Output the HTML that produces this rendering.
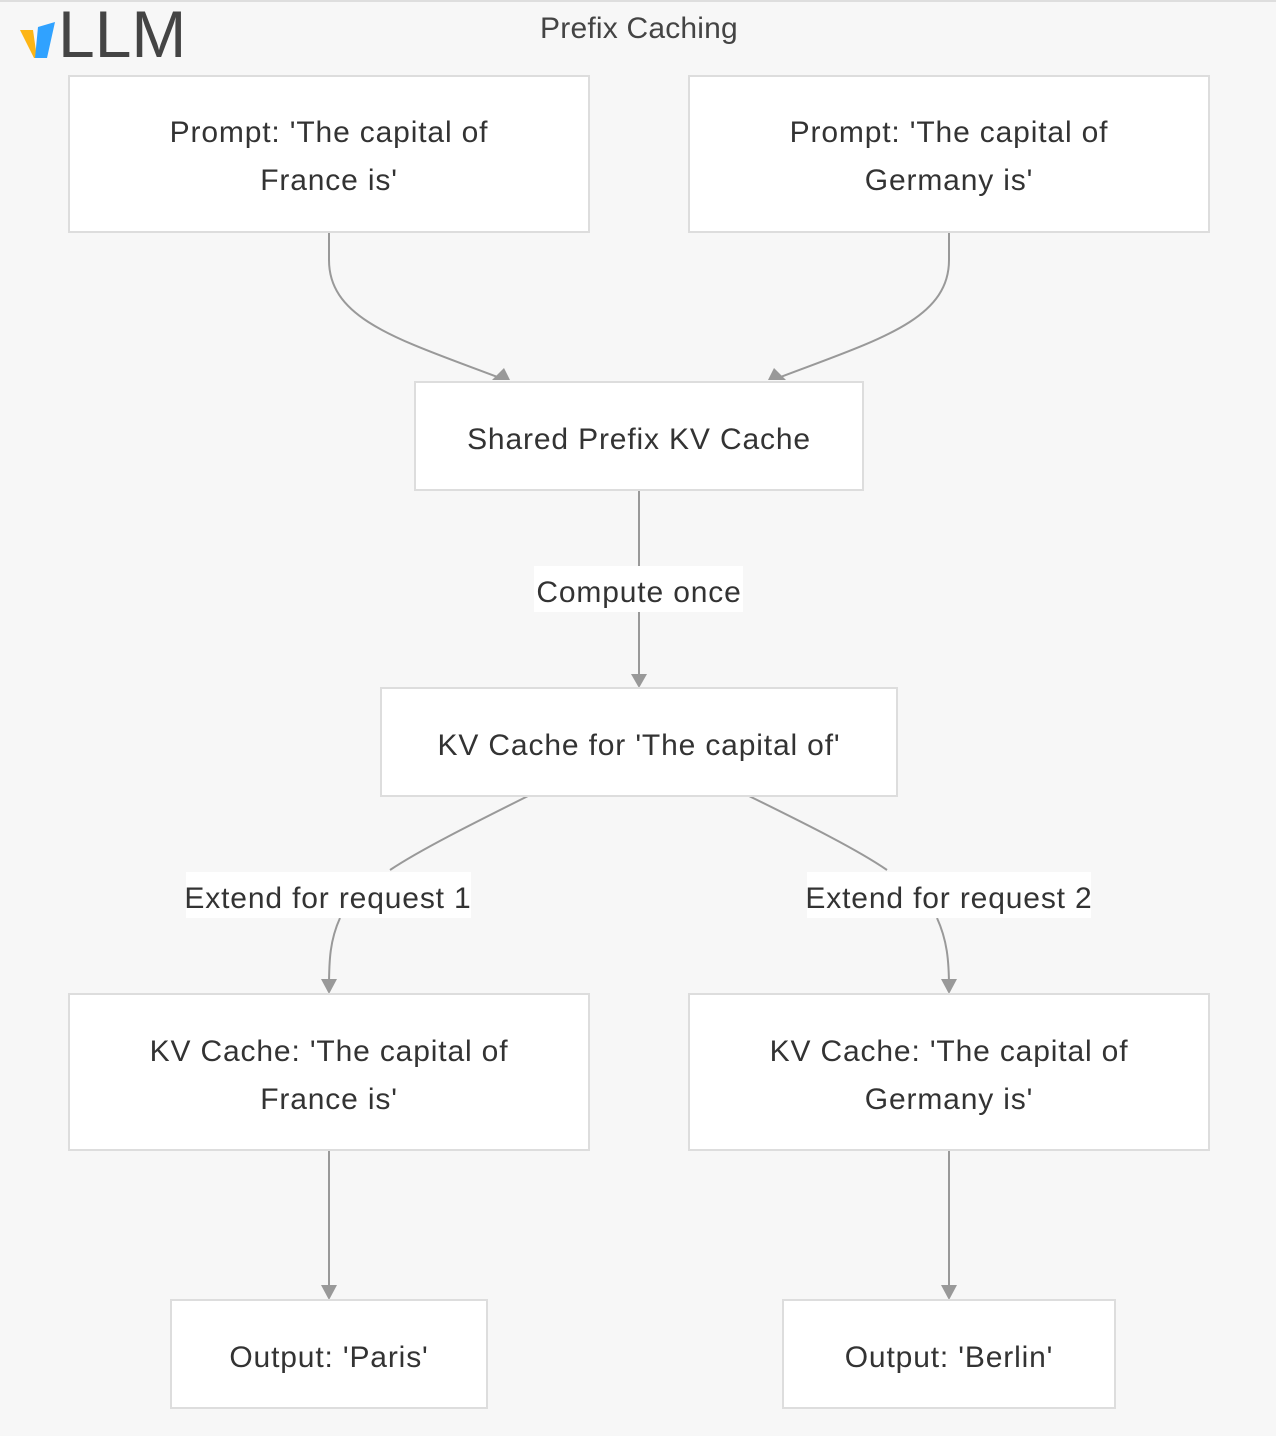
<!DOCTYPE html>
<html><head><meta charset="utf-8"><style>
html,body{margin:0;padding:0;background:#f7f7f7;}
svg{display:block;}
text{font-family:"Liberation Sans","DejaVu Sans",sans-serif;fill:#333;}
</style></head><body>
<svg width="1276" height="1436" viewBox="0 0 1276 1436" xmlns="http://www.w3.org/2000/svg">
<rect x="0" y="0" width="1276" height="1436" fill="#f7f7f7"/>
<rect x="0" y="0" width="1276" height="2" fill="#dedede"/>
<!-- logo -->
<polygon points="20,30 33,30 37,58 34,58" fill="#fdb515"/>
<polygon points="38,27 55,22 47,58 35,58" fill="#30a2ff"/>
<text x="58" y="57" font-size="66" style="fill:#444">LLM</text>
<text x="639" y="38" font-size="30" text-anchor="middle" letter-spacing="0.2" style="fill:#444">Prefix Caching</text>

<g fill="none" stroke="#999" stroke-width="2">
<path d="M329,232 V260 C329,320 400,340 500,378"/>
<path d="M949,232 V260 C949,320 878,340 778,378"/>
<path d="M639,490 V684"/>
<path d="M528,796 C470,825 420,850 390,870 M340,918 C330,940 329,960 329,988"/>
<path d="M749,796 C808,825 858,850 887,870 M937,918 C947,940 949,960 949,988"/>
<path d="M329,1150 V1294"/>
<path d="M949,1150 V1294"/>
</g>
<g fill="#999">
<polygon points="492,380 510,380 504,368"/>
<polygon points="768,380 786,380 774,368"/>
<polygon points="631,674 647,674 639,688"/>
<polygon points="321,979 337,979 329,994"/>
<polygon points="941,979 957,979 949,994"/>
<polygon points="321,1285 337,1285 329,1300"/>
<polygon points="941,1285 957,1285 949,1300"/>
</g>

<g fill="#fff" stroke="#ddd" stroke-width="2">
<rect x="69" y="76" width="520" height="156"/>
<rect x="689" y="76" width="520" height="156"/>
<rect x="415" y="382" width="448" height="108"/>
<rect x="381" y="688" width="516" height="108"/>
<rect x="69" y="994" width="520" height="156"/>
<rect x="689" y="994" width="520" height="156"/>
<rect x="171" y="1300" width="316" height="108"/>
<rect x="783" y="1300" width="332" height="108"/>
</g>
<g fill="#fff">
<rect x="534" y="566" width="209" height="46"/>
<rect x="186" y="872" width="285" height="46"/>
<rect x="807" y="872" width="284" height="46"/>
</g>

<g font-size="30" text-anchor="middle" letter-spacing="0.85">
<text x="329" y="142">Prompt: 'The capital of</text>
<text x="329" y="190">France is'</text>
<text x="949" y="142">Prompt: 'The capital of</text>
<text x="949" y="190">Germany is'</text>
<text x="639" y="449">Shared Prefix KV Cache</text>
<text x="639" y="602">Compute once</text>
<text x="639" y="755">KV Cache for 'The capital of'</text>
<text x="328" y="908">Extend for request 1</text>
<text x="949" y="908">Extend for request 2</text>
<text x="329" y="1061">KV Cache: 'The capital of</text>
<text x="329" y="1109">France is'</text>
<text x="949" y="1061">KV Cache: 'The capital of</text>
<text x="949" y="1109">Germany is'</text>
<text x="329" y="1367">Output: 'Paris'</text>
<text x="949" y="1367">Output: 'Berlin'</text>
</g>
</svg>
</body></html>
